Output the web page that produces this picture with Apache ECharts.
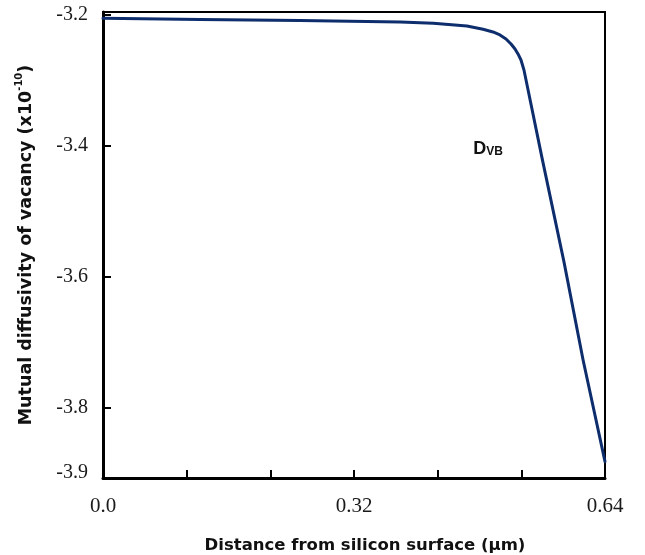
<!DOCTYPE html>
<html>
<head>
<meta charset="utf-8">
<script src="https://cdn.jsdelivr.net/npm/echarts@6/dist/echarts.min.js"></script>
<style>
html,body{margin:0;padding:0;background:#fff;}
#chart{width:645px;height:555px;}
</style>
</head>
<body>
<div id="chart"></div>
<script>
// Data
const distance = [0.000, 0.124, 0.251, 0.379, 0.421, 0.464, 0.4845, 0.4972, 0.5061, 0.5138, 0.5202, 0.5253, 0.5291, 0.5329, 0.5367, 0.5597, 0.5877, 0.6120, 0.6400];
const diffusivity = [-3.2056, -3.2075, -3.2090, -3.2113, -3.2133, -3.2174, -3.2224, -3.2265, -3.2311, -3.2372, -3.2449, -3.2525, -3.2601, -3.2693, -3.2846, -3.4189, -3.5777, -3.7273, -3.8830];
const xTickValues = [0, 0.64/6, 0.64*2/6, 0.32, 0.64*4/6, 0.64*5/6, 0.64];
const xLabelValues = [0, 0.32, 0.64];
const yTickValues = [-3.2, -3.4, -3.6, -3.8];
const yLabelValues = [-3.2, -3.4, -3.6, -3.8, -3.9];
const annotation = {x: 0.472, y: -3.404, main: 'D', sub: 'VB'};

const chart = echarts.init(document.getElementById('chart'));
const seriesData = distance.map((d, i) => [d, diffusivity[i]]);

chart.setOption({
  animation: false,
  backgroundColor: '#fff',
  grid: {
    left: 103, top: 12, right: 40, bottom: 77,
    containLabel: false, outerBoundsMode: 'none',
    show: true, borderColor: '#000', borderWidth: 2, backgroundColor: 'transparent'
  },
  xAxis: {
    type: 'value', min: 0, max: 0.64,
    name: 'Distance from silicon surface (\u03bcm)',
    nameLocation: 'middle', nameGap: 59,
    nameTextStyle: {fontFamily: 'DejaVu Sans', fontWeight: 'bold', fontSize: 16.5, color: '#111', padding: [0, 0, 0, 22]},
    splitLine: {show: false},
    axisLine: {show: true, lineStyle: {color: '#000', width: 3}},
    axisTick: {show: true, inside: true, length: 8, lineStyle: {color: '#000', width: 2}, customValues: xTickValues},
    axisLabel: {
      customValues: xLabelValues, margin: 18,
      fontFamily: 'Liberation Serif', fontSize: 21, color: '#1a1a1a',
      formatter: v => (Math.abs(v) < 1e-9 ? '0.0' : String(+v.toFixed(2)))
    }
  },
  yAxis: {
    type: 'value', min: -3.908, max: -3.196,
    name: '{a|Mutual diffusivity of vacancy (x10}{s|-10}{a|)}',
    nameLocation: 'middle', nameGap: 68, nameRotate: 90,
    nameTextStyle: {
      rich: {
        a: {fontFamily: 'DejaVu Sans', fontWeight: 'bold', fontSize: 17.5, color: '#111', lineHeight: 21, verticalAlign: 'bottom'},
        s: {fontFamily: 'DejaVu Sans', fontWeight: 'bold', fontSize: 10, color: '#111', lineHeight: 21, verticalAlign: 'top'}
      }
    },
    splitLine: {show: false},
    axisLine: {show: true, lineStyle: {color: '#000', width: 3}},
    axisTick: {show: true, inside: true, length: 8, lineStyle: {color: '#000', width: 2}, customValues: yTickValues},
    axisLabel: {
      customValues: yLabelValues, margin: 15,
      fontFamily: 'Liberation Serif', fontSize: 20, color: '#1a1a1a',
      formatter: v => v.toFixed(1)
    }
  },
  series: [{
    type: 'line',
    data: seriesData,
    showSymbol: false,
    smooth: false,
    lineStyle: {color: '#0d2d6c', width: 3, join: 'round', cap: 'round'},
    markPoint: {
      symbol: 'circle', symbolSize: 0,
      data: [{coord: [annotation.x, annotation.y]}],
      label: {
        show: true, position: 'right', distance: 0,
        formatter: '{d|' + annotation.main + '}{s|' + annotation.sub + '}',
        rich: {
          d: {fontFamily: 'Liberation Sans', fontWeight: 'bold', fontSize: 18, color: '#111', lineHeight: 20, verticalAlign: 'bottom'},
          s: {fontFamily: 'Liberation Sans', fontWeight: 'bold', fontSize: 12, color: '#111', lineHeight: 20, verticalAlign: 'bottom'}
        }
      }
    }
  }]
});
</script>
</body>
</html>
